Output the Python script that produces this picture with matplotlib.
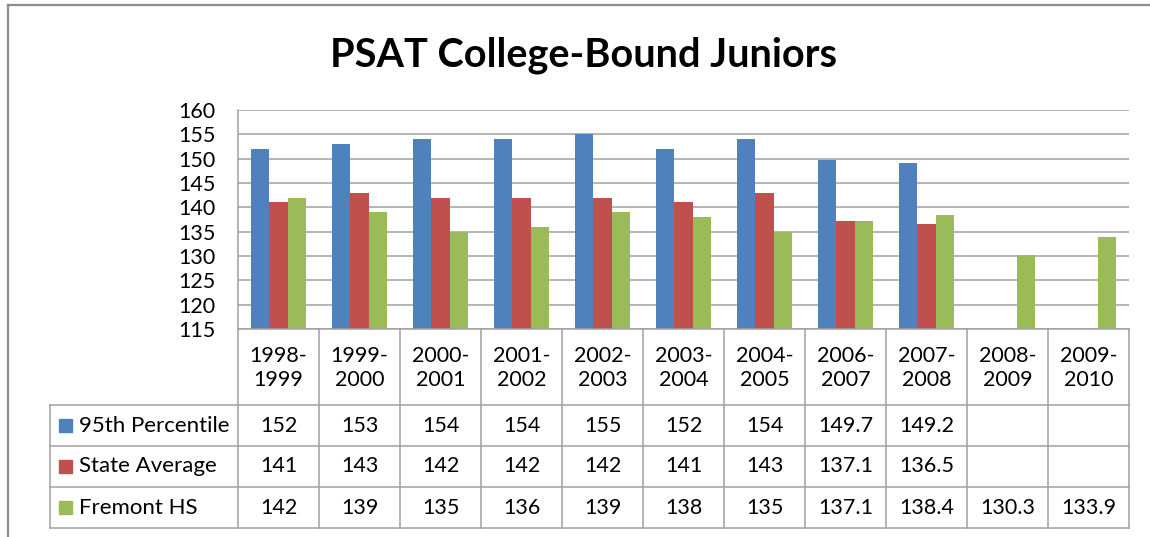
import numpy as np
import matplotlib.pyplot as plt
from matplotlib.lines import Line2D
from matplotlib.patches import Rectangle

plt.rcParams['font.family'] = ['Lato', 'DejaVu Sans']

# data
years = ['1998-\n1999', '1999-\n2000', '2000-\n2001', '2001-\n2002', '2002-\n2003',
         '2003-\n2004', '2004-\n2005', '2006-\n2007', '2007-\n2008', '2008-\n2009', '2009-\n2010']
pct95 = [152, 153, 154, 154, 155, 152, 154, 149.7, 149.2, None, None]
state_avg = [141, 143, 142, 142, 142, 141, 143, 137.1, 136.5, None, None]
fremont = [142, 139, 135, 136, 139, 138, 135, 137.1, 138.4, 130.3, 133.9]
series_names = ['95th Percentile', 'State Average', 'Fremont HS']
series = [pct95, state_avg, fremont]
colors = ['#4F81BD', '#C0504D', '#9BBB59']

W, H = 1150, 537
fig = plt.figure(figsize=(W / 100, H / 100), dpi=100)

def box(x0, y0, x1, y1):
    return [x0 / W, 1 - y1 / H, (x1 - x0) / W, (y1 - y0) / H]

grey = '#a0a0a0'
fs = 15.5

# outer frame
fig.add_artist(Line2D([8 / W, 8 / W], [0, 1 - 5 / H], color='#8c8c8c', lw=1.6))
fig.add_artist(Line2D([8 / W, 1], [1 - 5 / H, 1 - 5 / H], color='#8c8c8c', lw=1.6))

fig.text(583 / W, 1 - 55 / H, 'PSAT College-Bound Juniors', ha='center', va='center',
         fontsize=28.5, fontweight='bold')

# bar chart
ax = fig.add_axes(box(238, 110, 1129, 329))
x = np.arange(len(years))
bw = 0.228
for k, (vals, c) in enumerate(zip(series, colors)):
    v = np.array([np.nan if a is None else a for a in vals], dtype=float)
    ax.bar(x + (k - 1) * bw, v, width=bw, color=c, zorder=2)
ax.set_xlim(-0.5, len(years) - 0.5)
ax.set_ylim(115, 160)
ax.set_yticks(np.arange(115, 161, 5))
ax.yaxis.grid(True, color=grey, lw=1.1, zorder=0)
ax.tick_params(axis='y', length=0, pad=16, labelsize=fs)
ax.set_xticks([])
for s in ['top', 'right']:
    ax.spines[s].set_visible(False)
for s in ['left', 'bottom']:
    ax.spines[s].set_color(grey)
    ax.spines[s].set_linewidth(1.1)

# data table
tb = fig.add_axes(box(238, 329, 1129, 528))
tb.set_xlim(-0.5, len(years) - 0.5)
rows = [0, 76, 117, 158, 199]
tb.set_ylim(rows[-1], 0)
tb.axis('off')
left = -0.5 - 188 / 81
kw = dict(color=grey, lw=1.1, clip_on=False)
for i in range(len(years) + 1):
    tb.plot([i - 0.5, i - 0.5], [0, rows[-1]], **kw)
tb.plot([left, left], [rows[1], rows[-1]], **kw)
for r in rows[1:]:
    tb.plot([left, len(years) - 0.5], [r, r], **kw)
for i, lab in enumerate(years):
    tb.text(i, rows[1] / 2 + 1, lab, ha='center', va='center', fontsize=fs, linespacing=1.3)
for j, (name, vals, c) in enumerate(zip(series_names, series, colors)):
    yc = (rows[j + 1] + rows[j + 2]) / 2
    tb.add_patch(Rectangle((left + 9 / 81, yc - 6.5), 13 / 81, 13, color=c, clip_on=False))
    tb.text(left + 29 / 81, yc, name, ha='left', va='center', fontsize=16)
    for i, v in enumerate(vals):
        if v is not None:
            tb.text(i, yc, f'{v:g}', ha='center', va='center', fontsize=fs)

fig.savefig('out.png', dpi=100)
